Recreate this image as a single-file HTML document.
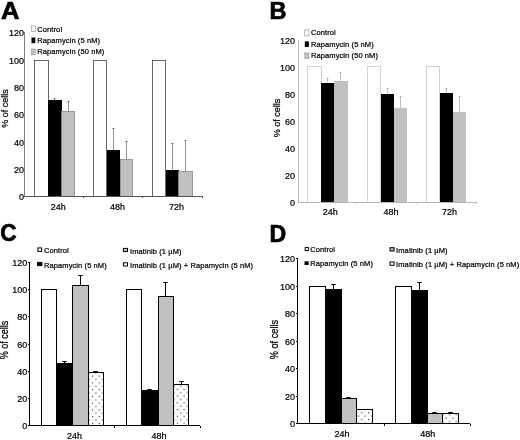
<!DOCTYPE html>
<html><head><meta charset="utf-8"><title>Figure</title>
<style>
html,body{margin:0;padding:0;background:#fff;}
svg{display:block;font-family:'Liberation Sans', sans-serif;}
</style></head>
<body>
<svg width="520" height="440" viewBox="0 0 520 440">
<defs>
<pattern id="dots1" width="6.75" height="6.75" patternUnits="userSpaceOnUse" patternTransform="translate(91.9,375.6)">
<rect width="6.75" height="6.75" fill="#fff"/>
<rect x="0" y="0" width="1.1" height="1.1" fill="#222"/>
<rect x="3.375" y="3.375" width="1.1" height="1.1" fill="#222"/>
</pattern>
<pattern id="dots2" width="6.75" height="6.75" patternUnits="userSpaceOnUse" patternTransform="translate(176.8,388.8)">
<rect width="6.75" height="6.75" fill="#fff"/>
<rect x="0" y="0" width="1.1" height="1.1" fill="#222"/>
<rect x="3.375" y="3.375" width="1.1" height="1.1" fill="#222"/>
</pattern>
<pattern id="dots3" width="6.75" height="6.75" patternUnits="userSpaceOnUse" patternTransform="translate(361.3,412.2)">
<rect width="6.75" height="6.75" fill="#fff"/>
<rect x="0" y="0" width="1.1" height="1.1" fill="#222"/>
<rect x="3.375" y="3.375" width="1.1" height="1.1" fill="#222"/>
</pattern>
<pattern id="dots4" width="6.75" height="6.75" patternUnits="userSpaceOnUse" patternTransform="translate(445.7,417.6)">
<rect width="6.75" height="6.75" fill="#fff"/>
<rect x="0" y="0" width="1.1" height="1.1" fill="#222"/>
<rect x="3.375" y="3.375" width="1.1" height="1.1" fill="#222"/>
</pattern>
</defs>
<rect width="520" height="440" fill="#fff"/>
<g>
<g id="A">
<text transform="translate(0.90,18.95) scale(1.045,1.0)" font-size="24.5" text-anchor="start" font-weight="bold" fill="#000" stroke="#000" stroke-width="0.7">A</text>
<rect x="34.50" y="60.50" width="14.00" height="136.00" fill="#fff" stroke="#444" stroke-width="0.8"/>
<line x1="54.50" y1="98.00" x2="54.50" y2="100.00" stroke="#555" stroke-width="0.65"/>
<line x1="53.30" y1="98.50" x2="55.70" y2="98.50" stroke="#555" stroke-width="0.65"/>
<rect x="48.00" y="100.00" width="14.00" height="96.00" fill="#000"/>
<line x1="68.50" y1="101.00" x2="68.50" y2="111.25" stroke="#555" stroke-width="0.65"/>
<line x1="67.30" y1="101.50" x2="69.70" y2="101.50" stroke="#555" stroke-width="0.65"/>
<rect x="61.50" y="111.50" width="13.00" height="85.00" fill="#c0c0c0" stroke="#888" stroke-width="0.8"/>
<rect x="93.50" y="60.50" width="13.00" height="136.00" fill="#fff" stroke="#444" stroke-width="0.8"/>
<line x1="113.50" y1="128.00" x2="113.50" y2="150.00" stroke="#555" stroke-width="0.65"/>
<line x1="112.30" y1="128.50" x2="114.70" y2="128.50" stroke="#555" stroke-width="0.65"/>
<rect x="107.00" y="150.00" width="13.00" height="46.00" fill="#000"/>
<line x1="126.50" y1="141.00" x2="126.50" y2="159.25" stroke="#555" stroke-width="0.65"/>
<line x1="125.30" y1="141.50" x2="127.70" y2="141.50" stroke="#555" stroke-width="0.65"/>
<rect x="120.50" y="159.50" width="12.00" height="37.00" fill="#c0c0c0" stroke="#888" stroke-width="0.8"/>
<rect x="152.50" y="60.50" width="13.00" height="136.00" fill="#fff" stroke="#444" stroke-width="0.8"/>
<line x1="172.50" y1="143.00" x2="172.50" y2="169.50" stroke="#555" stroke-width="0.65"/>
<line x1="171.30" y1="143.50" x2="173.70" y2="143.50" stroke="#555" stroke-width="0.65"/>
<rect x="166.00" y="170.00" width="13.00" height="26.00" fill="#000"/>
<line x1="185.50" y1="140.00" x2="185.50" y2="171.25" stroke="#555" stroke-width="0.65"/>
<line x1="184.30" y1="140.50" x2="186.70" y2="140.50" stroke="#555" stroke-width="0.65"/>
<rect x="178.50" y="171.50" width="14.00" height="25.00" fill="#c0c0c0" stroke="#888" stroke-width="0.8"/>
<line x1="24.50" y1="32.00" x2="24.50" y2="197.00" stroke="#808080" stroke-width="1"/>
<line x1="25.00" y1="196.50" x2="202.00" y2="196.50" stroke="#555" stroke-width="1"/>
<text transform="translate(24.00,200.20) scale(1.0,1.09)" font-size="9.0" text-anchor="end" font-weight="normal" fill="#000" stroke="#000" stroke-width="0.22">0</text>
<text transform="translate(24.00,172.90) scale(1.0,1.09)" font-size="9.0" text-anchor="end" font-weight="normal" fill="#000" stroke="#000" stroke-width="0.22">20</text>
<text transform="translate(24.00,145.60) scale(1.0,1.09)" font-size="9.0" text-anchor="end" font-weight="normal" fill="#000" stroke="#000" stroke-width="0.22">40</text>
<text transform="translate(24.00,118.30) scale(1.0,1.09)" font-size="9.0" text-anchor="end" font-weight="normal" fill="#000" stroke="#000" stroke-width="0.22">60</text>
<text transform="translate(24.00,91.00) scale(1.0,1.09)" font-size="9.0" text-anchor="end" font-weight="normal" fill="#000" stroke="#000" stroke-width="0.22">80</text>
<text transform="translate(24.00,63.70) scale(1.0,1.09)" font-size="9.0" text-anchor="end" font-weight="normal" fill="#000" stroke="#000" stroke-width="0.22">100</text>
<text transform="translate(24.00,36.40) scale(1.0,1.09)" font-size="9.0" text-anchor="end" font-weight="normal" fill="#000" stroke="#000" stroke-width="0.22">120</text>
<line x1="83.50" y1="196.00" x2="83.50" y2="198.00" stroke="#555" stroke-width="1"/>
<line x1="142.50" y1="196.00" x2="142.50" y2="198.00" stroke="#555" stroke-width="1"/>
<line x1="202.50" y1="196.00" x2="202.50" y2="198.00" stroke="#555" stroke-width="1"/>
<text transform="translate(58.20,209.50) scale(1.0,1.09)" font-size="9.0" text-anchor="middle" font-weight="normal" fill="#000" stroke="#000" stroke-width="0.22">24h</text>
<text transform="translate(117.50,209.50) scale(1.0,1.09)" font-size="9.0" text-anchor="middle" font-weight="normal" fill="#000" stroke="#000" stroke-width="0.22">48h</text>
<text transform="translate(176.50,209.50) scale(1.0,1.09)" font-size="9.0" text-anchor="middle" font-weight="normal" fill="#000" stroke="#000" stroke-width="0.22">72h</text>
<text transform="translate(7.70,108.50) rotate(-90) scale(1.0,1.09)" font-size="9.0" text-anchor="middle" font-weight="normal" fill="#000" stroke="#000" stroke-width="0.22">% of cells</text>
<rect x="31.50" y="25.90" width="3.80" height="5.70" fill="#fff" stroke="#999" stroke-width="0.7"/>
<text transform="translate(37.30,31.50) scale(1.0,1.04)" font-size="7.5" text-anchor="start" font-weight="normal" fill="#000" stroke="#000" stroke-width="0.22" letter-spacing="0.1">Control</text>
<rect x="31.50" y="37.50" width="3.80" height="5.70" fill="#000"/>
<text transform="translate(37.30,43.00) scale(1.0,1.04)" font-size="7.5" text-anchor="start" font-weight="normal" fill="#000" stroke="#000" stroke-width="0.22" letter-spacing="0.1">Rapamycin (5 nM)</text>
<rect x="31.50" y="49.10" width="3.80" height="5.60" fill="#c0c0c0" stroke="#999" stroke-width="0.7"/>
<text transform="translate(37.30,54.40) scale(1.0,1.04)" font-size="7.5" text-anchor="start" font-weight="normal" fill="#000" stroke="#000" stroke-width="0.22" letter-spacing="0.1">Rapamycin (50 nM)</text>
</g>
<g id="B">
<text transform="translate(269.60,18.95)" font-size="23.5" text-anchor="start" font-weight="bold" fill="#000" stroke="#000" stroke-width="0.7">B</text>
<rect x="307.50" y="66.50" width="14.00" height="136.00" fill="#fff" stroke="#c8c8c8" stroke-width="0.8"/>
<line x1="327.50" y1="78.00" x2="327.50" y2="82.50" stroke="#a0a0a0" stroke-width="0.65"/>
<line x1="326.40" y1="78.50" x2="328.60" y2="78.50" stroke="#a0a0a0" stroke-width="0.65"/>
<rect x="321.00" y="83.00" width="13.00" height="119.00" fill="#000"/>
<line x1="340.50" y1="72.00" x2="340.50" y2="81.25" stroke="#a0a0a0" stroke-width="0.65"/>
<line x1="339.40" y1="72.50" x2="341.60" y2="72.50" stroke="#a0a0a0" stroke-width="0.65"/>
<rect x="334.00" y="81.00" width="14.00" height="121.00" fill="#c0c0c0"/>
<rect x="367.50" y="66.50" width="13.00" height="136.00" fill="#fff" stroke="#c8c8c8" stroke-width="0.8"/>
<line x1="387.50" y1="88.00" x2="387.50" y2="94.00" stroke="#a0a0a0" stroke-width="0.65"/>
<line x1="386.40" y1="88.50" x2="388.60" y2="88.50" stroke="#a0a0a0" stroke-width="0.65"/>
<rect x="381.00" y="94.00" width="13.00" height="108.00" fill="#000"/>
<line x1="400.50" y1="96.00" x2="400.50" y2="108.00" stroke="#a0a0a0" stroke-width="0.65"/>
<line x1="399.40" y1="96.50" x2="401.60" y2="96.50" stroke="#a0a0a0" stroke-width="0.65"/>
<rect x="394.00" y="108.00" width="13.00" height="94.00" fill="#c0c0c0"/>
<rect x="426.50" y="66.50" width="13.00" height="136.00" fill="#fff" stroke="#c8c8c8" stroke-width="0.8"/>
<line x1="446.50" y1="88.00" x2="446.50" y2="93.00" stroke="#a0a0a0" stroke-width="0.65"/>
<line x1="445.40" y1="88.50" x2="447.60" y2="88.50" stroke="#a0a0a0" stroke-width="0.65"/>
<rect x="440.00" y="93.00" width="13.00" height="109.00" fill="#000"/>
<line x1="459.50" y1="96.00" x2="459.50" y2="112.00" stroke="#a0a0a0" stroke-width="0.65"/>
<line x1="458.40" y1="96.50" x2="460.60" y2="96.50" stroke="#a0a0a0" stroke-width="0.65"/>
<rect x="453.00" y="112.00" width="13.00" height="90.00" fill="#c0c0c0"/>
<line x1="298.50" y1="40.00" x2="298.50" y2="202.00" stroke="#b8b8b8" stroke-width="1"/>
<line x1="298.00" y1="202.50" x2="476.00" y2="202.50" stroke="#b8b8b8" stroke-width="1"/>
<text transform="translate(294.90,205.70) scale(1.0,1.09)" font-size="9.0" text-anchor="end" font-weight="normal" fill="#000" stroke="#000" stroke-width="0.22">0</text>
<text transform="translate(294.90,178.70) scale(1.0,1.09)" font-size="9.0" text-anchor="end" font-weight="normal" fill="#000" stroke="#000" stroke-width="0.22">20</text>
<text transform="translate(294.90,151.70) scale(1.0,1.09)" font-size="9.0" text-anchor="end" font-weight="normal" fill="#000" stroke="#000" stroke-width="0.22">40</text>
<text transform="translate(294.90,124.70) scale(1.0,1.09)" font-size="9.0" text-anchor="end" font-weight="normal" fill="#000" stroke="#000" stroke-width="0.22">60</text>
<text transform="translate(294.90,97.70) scale(1.0,1.09)" font-size="9.0" text-anchor="end" font-weight="normal" fill="#000" stroke="#000" stroke-width="0.22">80</text>
<text transform="translate(294.90,70.70) scale(1.0,1.09)" font-size="9.0" text-anchor="end" font-weight="normal" fill="#000" stroke="#000" stroke-width="0.22">100</text>
<text transform="translate(294.90,43.70) scale(1.0,1.09)" font-size="9.0" text-anchor="end" font-weight="normal" fill="#000" stroke="#000" stroke-width="0.22">120</text>
<line x1="356.50" y1="202.00" x2="356.50" y2="204.00" stroke="#b8b8b8" stroke-width="1"/>
<line x1="416.50" y1="202.00" x2="416.50" y2="204.00" stroke="#b8b8b8" stroke-width="1"/>
<line x1="476.50" y1="202.00" x2="476.50" y2="204.00" stroke="#b8b8b8" stroke-width="1"/>
<text transform="translate(330.30,215.00) scale(1.0,1.09)" font-size="9.0" text-anchor="middle" font-weight="normal" fill="#000" stroke="#000" stroke-width="0.22">24h</text>
<text transform="translate(391.00,215.00) scale(1.0,1.09)" font-size="9.0" text-anchor="middle" font-weight="normal" fill="#000" stroke="#000" stroke-width="0.22">48h</text>
<text transform="translate(449.50,215.00) scale(1.0,1.09)" font-size="9.0" text-anchor="middle" font-weight="normal" fill="#000" stroke="#000" stroke-width="0.22">72h</text>
<text transform="translate(280.00,118.00) rotate(-90) scale(1.0,1.09)" font-size="9.0" text-anchor="middle" font-weight="normal" fill="#000" stroke="#000" stroke-width="0.22">% of cells</text>
<rect x="304.80" y="29.80" width="4.10" height="6.10" fill="#fff" stroke="#999" stroke-width="0.7"/>
<text transform="translate(311.00,35.40) scale(1.0,1.04)" font-size="7.5" text-anchor="start" font-weight="normal" fill="#000" stroke="#000" stroke-width="0.22" letter-spacing="0.1">Control</text>
<rect x="304.80" y="41.40" width="4.10" height="5.60" fill="#000"/>
<text transform="translate(311.00,47.00) scale(1.0,1.04)" font-size="7.5" text-anchor="start" font-weight="normal" fill="#000" stroke="#000" stroke-width="0.22" letter-spacing="0.1">Rapamycin (5 nM)</text>
<rect x="304.80" y="52.90" width="4.10" height="5.70" fill="#c0c0c0" stroke="#999" stroke-width="0.7"/>
<text transform="translate(311.00,58.40) scale(1.0,1.04)" font-size="7.5" text-anchor="start" font-weight="normal" fill="#000" stroke="#000" stroke-width="0.22" letter-spacing="0.1">Rapamycin (50 nM)</text>
</g>
<g id="C">
<text transform="translate(0.20,241.00) scale(0.96,1.0)" font-size="23.5" text-anchor="start" font-weight="bold" fill="#000" stroke="#000" stroke-width="0.7">C</text>
<rect x="41.50" y="289.50" width="15.00" height="136.00" fill="#fff" stroke="#000" stroke-width="1"/>
<line x1="64.50" y1="361.00" x2="64.50" y2="363.75" stroke="#000" stroke-width="1"/>
<line x1="62.30" y1="361.50" x2="66.70" y2="361.50" stroke="#000" stroke-width="1"/>
<rect x="56.50" y="363.50" width="16.00" height="62.00" fill="#000" stroke="#000" stroke-width="1"/>
<line x1="80.50" y1="275.00" x2="80.50" y2="285.50" stroke="#000" stroke-width="1"/>
<line x1="78.30" y1="275.50" x2="82.70" y2="275.50" stroke="#000" stroke-width="1"/>
<rect x="72.50" y="285.50" width="16.00" height="140.00" fill="#c0c0c0" stroke="#000" stroke-width="1"/>
<line x1="95.50" y1="371.00" x2="95.50" y2="373.00" stroke="#000" stroke-width="1"/>
<line x1="93.30" y1="371.50" x2="97.70" y2="371.50" stroke="#000" stroke-width="1"/>
<rect x="88.00" y="373.00" width="16.00" height="53.00" fill="#fff"/>
<rect x="88.50" y="372.50" width="15.00" height="53.00" fill="url(#dots1)" stroke="#000" stroke-width="1"/>
<rect x="126.50" y="289.50" width="15.00" height="136.00" fill="#fff" stroke="#000" stroke-width="1"/>
<line x1="149.50" y1="389.00" x2="149.50" y2="390.75" stroke="#000" stroke-width="1"/>
<line x1="147.30" y1="389.50" x2="151.70" y2="389.50" stroke="#000" stroke-width="1"/>
<rect x="141.50" y="390.50" width="17.00" height="35.00" fill="#000" stroke="#000" stroke-width="1"/>
<line x1="165.50" y1="282.00" x2="165.50" y2="296.75" stroke="#000" stroke-width="1"/>
<line x1="163.30" y1="282.50" x2="167.70" y2="282.50" stroke="#000" stroke-width="1"/>
<rect x="158.50" y="296.50" width="15.00" height="129.00" fill="#c0c0c0" stroke="#000" stroke-width="1"/>
<line x1="181.50" y1="381.00" x2="181.50" y2="385.00" stroke="#000" stroke-width="1"/>
<line x1="179.30" y1="381.50" x2="183.70" y2="381.50" stroke="#000" stroke-width="1"/>
<rect x="173.00" y="385.00" width="16.00" height="41.00" fill="#fff"/>
<rect x="173.50" y="384.50" width="15.00" height="41.00" fill="url(#dots2)" stroke="#000" stroke-width="1"/>
<line x1="29.50" y1="262.00" x2="29.50" y2="426.00" stroke="#000" stroke-width="1"/>
<line x1="28.00" y1="425.50" x2="200.00" y2="425.50" stroke="#000" stroke-width="1"/>
<text transform="translate(27.30,429.45) scale(1.0,1.09)" font-size="9.0" text-anchor="end" font-weight="normal" fill="#000" stroke="#000" stroke-width="0.22">0</text>
<line x1="28.00" y1="398.50" x2="30.00" y2="398.50" stroke="#000" stroke-width="1"/>
<text transform="translate(27.30,402.20) scale(1.0,1.09)" font-size="9.0" text-anchor="end" font-weight="normal" fill="#000" stroke="#000" stroke-width="0.22">20</text>
<line x1="28.00" y1="371.50" x2="30.00" y2="371.50" stroke="#000" stroke-width="1"/>
<text transform="translate(27.30,374.95) scale(1.0,1.09)" font-size="9.0" text-anchor="end" font-weight="normal" fill="#000" stroke="#000" stroke-width="0.22">40</text>
<line x1="28.00" y1="344.50" x2="30.00" y2="344.50" stroke="#000" stroke-width="1"/>
<text transform="translate(27.30,347.70) scale(1.0,1.09)" font-size="9.0" text-anchor="end" font-weight="normal" fill="#000" stroke="#000" stroke-width="0.22">60</text>
<line x1="28.00" y1="316.50" x2="30.00" y2="316.50" stroke="#000" stroke-width="1"/>
<text transform="translate(27.30,320.45) scale(1.0,1.09)" font-size="9.0" text-anchor="end" font-weight="normal" fill="#000" stroke="#000" stroke-width="0.22">80</text>
<line x1="28.00" y1="289.50" x2="30.00" y2="289.50" stroke="#000" stroke-width="1"/>
<text transform="translate(27.30,293.20) scale(1.0,1.09)" font-size="9.0" text-anchor="end" font-weight="normal" fill="#000" stroke="#000" stroke-width="0.22">100</text>
<line x1="28.00" y1="262.50" x2="30.00" y2="262.50" stroke="#000" stroke-width="1"/>
<text transform="translate(27.30,265.95) scale(1.0,1.09)" font-size="9.0" text-anchor="end" font-weight="normal" fill="#000" stroke="#000" stroke-width="0.22">120</text>
<line x1="114.50" y1="426.00" x2="114.50" y2="428.00" stroke="#000" stroke-width="1"/>
<line x1="200.50" y1="426.00" x2="200.50" y2="428.00" stroke="#000" stroke-width="1"/>
<text transform="translate(74.60,439.05) scale(1.0,1.09)" font-size="9.0" text-anchor="middle" font-weight="normal" fill="#000" stroke="#000" stroke-width="0.22">24h</text>
<text transform="translate(159.10,439.05) scale(1.0,1.09)" font-size="9.0" text-anchor="middle" font-weight="normal" fill="#000" stroke="#000" stroke-width="0.22">48h</text>
<text transform="translate(7.70,340.00) rotate(-90) scale(1.0,1.18)" font-size="9.0" text-anchor="middle" font-weight="normal" fill="#000" stroke="#000" stroke-width="0.22">% of cells</text>
<rect x="37.90" y="247.90" width="3.70" height="3.50" fill="#fff" stroke="#000" stroke-width="1"/>
<text transform="translate(44.00,253.00) scale(1.0,1.04)" font-size="7.5" text-anchor="start" font-weight="normal" fill="#000" stroke="#000" stroke-width="0.22" letter-spacing="0.1">Control</text>
<rect x="37.60" y="262.40" width="4.30" height="3.20" fill="#000" stroke="#000" stroke-width="1"/>
<text transform="translate(44.00,267.80) scale(1.0,1.04)" font-size="7.5" text-anchor="start" font-weight="normal" fill="#000" stroke="#000" stroke-width="0.22" letter-spacing="0.1">Rapamycin (5 nM)</text>
<rect x="123.40" y="248.40" width="4.10" height="3.20" fill="#c0c0c0" stroke="#000" stroke-width="1"/>
<text transform="translate(130.00,253.50) scale(1.0,1.04)" font-size="7.5" text-anchor="start" font-weight="normal" fill="#000" stroke="#000" stroke-width="0.22" letter-spacing="0.1">Imatinib (1 µM)</text>
<rect x="123.40" y="262.80" width="4.10" height="3.20" fill="#fff" stroke="#000" stroke-width="1"/>
<text transform="translate(130.00,267.80) scale(1.0,1.04)" font-size="7.5" text-anchor="start" font-weight="normal" fill="#000" stroke="#000" stroke-width="0.22" letter-spacing="0.1">Imatinib (1 µM) + Rapamycin (5 nM)</text>
</g>
<g id="D">
<text transform="translate(269.50,242.00) scale(0.963,1.0)" font-size="24" text-anchor="start" font-weight="bold" fill="#000" stroke="#000" stroke-width="0.7">D</text>
<rect x="309.50" y="286.50" width="16.00" height="137.00" fill="#fff" stroke="#000" stroke-width="1"/>
<line x1="333.50" y1="284.00" x2="333.50" y2="289.50" stroke="#000" stroke-width="1"/>
<line x1="331.30" y1="284.50" x2="335.70" y2="284.50" stroke="#000" stroke-width="1"/>
<rect x="325.50" y="289.50" width="16.00" height="134.00" fill="#000" stroke="#000" stroke-width="1"/>
<line x1="348.50" y1="397.00" x2="348.50" y2="398.25" stroke="#000" stroke-width="1"/>
<line x1="346.30" y1="397.50" x2="350.70" y2="397.50" stroke="#000" stroke-width="1"/>
<rect x="341.50" y="398.50" width="15.00" height="25.00" fill="#c0c0c0" stroke="#000" stroke-width="1"/>
<rect x="356.00" y="410.00" width="16.00" height="14.00" fill="#fff"/>
<rect x="356.50" y="409.50" width="16.00" height="14.00" fill="url(#dots3)" stroke="#000" stroke-width="1"/>
<rect x="395.50" y="286.50" width="16.00" height="137.00" fill="#fff" stroke="#000" stroke-width="1"/>
<line x1="419.50" y1="282.00" x2="419.50" y2="290.00" stroke="#000" stroke-width="1"/>
<line x1="417.30" y1="282.50" x2="421.70" y2="282.50" stroke="#000" stroke-width="1"/>
<rect x="411.50" y="290.50" width="16.00" height="133.00" fill="#000" stroke="#000" stroke-width="1"/>
<line x1="434.50" y1="412.00" x2="434.50" y2="413.75" stroke="#000" stroke-width="1"/>
<line x1="432.30" y1="412.50" x2="436.70" y2="412.50" stroke="#000" stroke-width="1"/>
<rect x="427.50" y="413.50" width="15.00" height="10.00" fill="#c0c0c0" stroke="#000" stroke-width="1"/>
<line x1="450.50" y1="412.00" x2="450.50" y2="413.25" stroke="#000" stroke-width="1"/>
<line x1="448.30" y1="412.50" x2="452.70" y2="412.50" stroke="#000" stroke-width="1"/>
<rect x="442.00" y="413.00" width="17.00" height="11.00" fill="#fff"/>
<rect x="442.50" y="413.50" width="16.00" height="10.00" fill="url(#dots4)" stroke="#000" stroke-width="1"/>
<line x1="297.50" y1="258.00" x2="297.50" y2="424.00" stroke="#000" stroke-width="1"/>
<line x1="296.00" y1="423.50" x2="470.00" y2="423.50" stroke="#000" stroke-width="1"/>
<text transform="translate(295.00,427.45) scale(1.0,1.09)" font-size="9.0" text-anchor="end" font-weight="normal" fill="#000" stroke="#000" stroke-width="0.22">0</text>
<line x1="296.00" y1="396.50" x2="298.00" y2="396.50" stroke="#000" stroke-width="1"/>
<text transform="translate(295.00,399.95) scale(1.0,1.09)" font-size="9.0" text-anchor="end" font-weight="normal" fill="#000" stroke="#000" stroke-width="0.22">20</text>
<line x1="296.00" y1="368.50" x2="298.00" y2="368.50" stroke="#000" stroke-width="1"/>
<text transform="translate(295.00,372.45) scale(1.0,1.09)" font-size="9.0" text-anchor="end" font-weight="normal" fill="#000" stroke="#000" stroke-width="0.22">40</text>
<line x1="296.00" y1="341.50" x2="298.00" y2="341.50" stroke="#000" stroke-width="1"/>
<text transform="translate(295.00,344.95) scale(1.0,1.09)" font-size="9.0" text-anchor="end" font-weight="normal" fill="#000" stroke="#000" stroke-width="0.22">60</text>
<line x1="296.00" y1="313.50" x2="298.00" y2="313.50" stroke="#000" stroke-width="1"/>
<text transform="translate(295.00,317.45) scale(1.0,1.09)" font-size="9.0" text-anchor="end" font-weight="normal" fill="#000" stroke="#000" stroke-width="0.22">80</text>
<line x1="296.00" y1="286.50" x2="298.00" y2="286.50" stroke="#000" stroke-width="1"/>
<text transform="translate(295.00,289.95) scale(1.0,1.09)" font-size="9.0" text-anchor="end" font-weight="normal" fill="#000" stroke="#000" stroke-width="0.22">100</text>
<line x1="296.00" y1="258.50" x2="298.00" y2="258.50" stroke="#000" stroke-width="1"/>
<text transform="translate(295.00,262.45) scale(1.0,1.09)" font-size="9.0" text-anchor="end" font-weight="normal" fill="#000" stroke="#000" stroke-width="0.22">120</text>
<line x1="384.50" y1="424.00" x2="384.50" y2="426.00" stroke="#000" stroke-width="1"/>
<line x1="470.50" y1="424.00" x2="470.50" y2="426.00" stroke="#000" stroke-width="1"/>
<text transform="translate(342.00,437.05) scale(1.0,1.09)" font-size="9.0" text-anchor="middle" font-weight="normal" fill="#000" stroke="#000" stroke-width="0.22">24h</text>
<text transform="translate(427.70,437.05) scale(1.0,1.09)" font-size="9.0" text-anchor="middle" font-weight="normal" fill="#000" stroke="#000" stroke-width="0.22">48h</text>
<text transform="translate(278.30,339.60) rotate(-90) scale(1.0,1.2)" font-size="9.2" text-anchor="middle" font-weight="normal" fill="#000" stroke="#000" stroke-width="0.22">% of cells</text>
<rect x="305.20" y="247.50" width="3.10" height="3.10" fill="#fff" stroke="#000" stroke-width="1"/>
<text transform="translate(310.20,252.20) scale(1.0,1.04)" font-size="7.5" text-anchor="start" font-weight="normal" fill="#000" stroke="#000" stroke-width="0.22" letter-spacing="0.1">Control</text>
<rect x="305.00" y="261.90" width="3.20" height="2.60" fill="#000" stroke="#000" stroke-width="1"/>
<text transform="translate(310.20,266.30) scale(1.0,1.04)" font-size="7.5" text-anchor="start" font-weight="normal" fill="#000" stroke="#000" stroke-width="0.22" letter-spacing="0.1">Rapamycin (5 nM)</text>
<rect x="390.00" y="247.70" width="4.10" height="3.30" fill="#c0c0c0" stroke="#000" stroke-width="1"/>
<text transform="translate(396.10,253.30) scale(1.0,1.04)" font-size="7.5" text-anchor="start" font-weight="normal" fill="#000" stroke="#000" stroke-width="0.22" letter-spacing="0.1">Imatinib (1 µM)</text>
<rect x="390.00" y="262.00" width="4.10" height="3.30" fill="#fff" stroke="#000" stroke-width="1"/>
<text transform="translate(396.10,267.00) scale(1.0,1.04)" font-size="7.5" text-anchor="start" font-weight="normal" fill="#000" stroke="#000" stroke-width="0.22" letter-spacing="0.1">Imatinib (1 µM) + Rapamycin (5 nM)</text>
</g>
</g>
</svg>
</body></html>
